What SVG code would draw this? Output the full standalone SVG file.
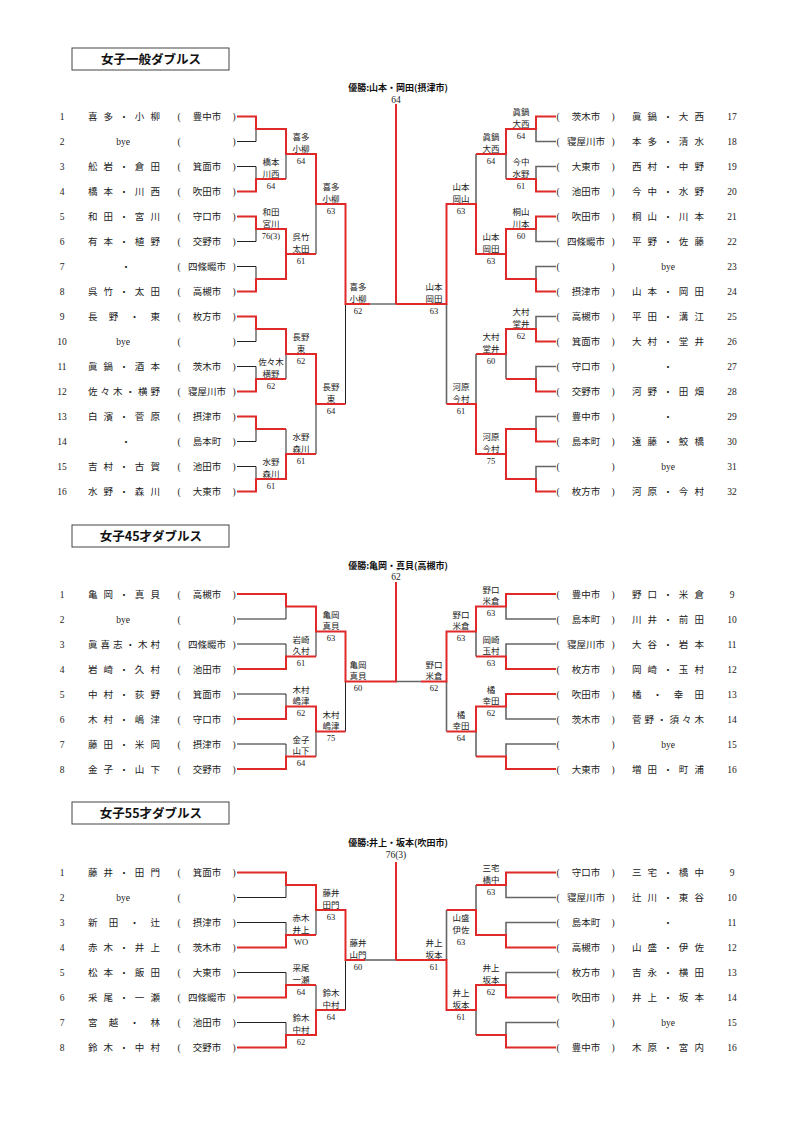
<svg xmlns="http://www.w3.org/2000/svg" width="794" height="1123" viewBox="0 0 794 1123">
<style>
text{font-family:"Liberation Serif","Noto Sans CJK JP",serif;fill:#222;font-size:9.5px}
.m{text-anchor:middle}
.l{font-size:8.5px;text-anchor:middle}
.ttl{font-family:"Noto Sans CJK JP",sans-serif;font-weight:bold;font-size:12.5px;text-anchor:middle;fill:#111}
.ch{font-family:"Noto Sans CJK JP",sans-serif;font-weight:bold;font-size:9px;text-anchor:middle;fill:#111}
.box{fill:#fff;stroke:#444;stroke-width:1}
path{fill:none}
.r{stroke:#e02a2a;stroke-width:2}
.k{stroke:#222;stroke-width:1}
.g{stroke:#666;stroke-width:1.6}
</style>
<rect width="794" height="1123" fill="#fff"/>

<!-- ===== Section 1 ===== -->
<g id="title1"><rect class="box" x="72" y="48" width="157" height="22"/><text class="ttl" x="151" y="63.5">女子一般ダブルス</text></g>
<g id="champ1"><text class="ch" x="398" y="91">優勝:山本・岡田(摂津市)</text><text class="m" x="396" y="103">64</text></g>

<g id="s1-connectors">
<path class="k" d="M237 141.5H256V129M237 166.5H256V179M237 241.5H256V229M237 266.5H256V279M237 341.5H256V329M237 366.5H256V379M237 441.5H256V429M237 466.5H256V479M286 179V154M286 379V354M286 429V454M316 254V204M316 454V404M345.5 404V304M370 304H396"/>
<path class="r" d="M237 116.5H256V129H286V154H316V204H345.5V304H370"/>
<path class="r" d="M237 191.5H256V179H286"/>
<path class="r" d="M237 216.5H256V229H286V254"/>
<path class="r" d="M237 291.5H256V279H286V254H316"/>
<path class="r" d="M237 316.5H256V329H286V354H316V404H345.5"/>
<path class="r" d="M237 391.5H256V379H286"/>
<path class="r" d="M237 416.5H256V429H286"/>
<path class="r" d="M237 491.5H256V479H286V454H316"/>
<path class="r" d="M396 304V104"/>
<path class="g" d="M556 141.5H536V129M556 166.5H536V179M556 241.5H536V229M556 266.5H536V279M556 316.5H536V329M556 366.5H536V379M556 416.5H536V429M556 466.5H536V479M506 179V154M506 379V354M476 154V204M476 354V404M446.5 304V404"/>
<path class="r" d="M556 116.5H536V129H506V154H476"/>
<path class="r" d="M556 191.5H536V179H506"/>
<path class="r" d="M556 216.5H536V229H506V254"/>
<path class="r" d="M556 291.5H536V279H506V254H476V204H446.5V304H396"/>
<path class="r" d="M556 341.5H536V329H506V354H476"/>
<path class="r" d="M556 391.5H536V379H506"/>
<path class="r" d="M556 441.5H536V429H506V454"/>
<path class="r" d="M556 491.5H536V479H506V454H476V404H446.5"/>
</g>

<g id="s1-left">
<g id="s1-e1"><text class="m" x="62" y="120">1</text><text x="88" y="120" textLength="72" lengthAdjust="spacing">喜多・小柳</text><text class="m" x="179" y="120">(</text><text class="m" x="207" y="120">豊中市</text><text class="m" x="234" y="120">)</text></g>
<g id="s1-e2"><text class="m" x="62" y="145">2</text><text class="m" x="123" y="145">bye</text><text class="m" x="179" y="145">(</text><text class="m" x="234" y="145">)</text></g>
<g id="s1-e3"><text class="m" x="62" y="170">3</text><text x="88" y="170" textLength="72" lengthAdjust="spacing">舩岩・倉田</text><text class="m" x="179" y="170">(</text><text class="m" x="207" y="170">箕面市</text><text class="m" x="234" y="170">)</text></g>
<g id="s1-e4"><text class="m" x="62" y="195">4</text><text x="88" y="195" textLength="72" lengthAdjust="spacing">橋本・川西</text><text class="m" x="179" y="195">(</text><text class="m" x="207" y="195">吹田市</text><text class="m" x="234" y="195">)</text></g>
<g id="s1-e5"><text class="m" x="62" y="220">5</text><text x="88" y="220" textLength="72" lengthAdjust="spacing">和田・宮川</text><text class="m" x="179" y="220">(</text><text class="m" x="207" y="220">守口市</text><text class="m" x="234" y="220">)</text></g>
<g id="s1-e6"><text class="m" x="62" y="245">6</text><text x="88" y="245" textLength="72" lengthAdjust="spacing">有本・植野</text><text class="m" x="179" y="245">(</text><text class="m" x="207" y="245">交野市</text><text class="m" x="234" y="245">)</text></g>
<g id="s1-e7"><text class="m" x="62" y="270">7</text><text class="m" x="126" y="270">・</text><text class="m" x="179" y="270">(</text><text class="m" x="207" y="270">四條畷市</text><text class="m" x="234" y="270">)</text></g>
<g id="s1-e8"><text class="m" x="62" y="295">8</text><text x="88" y="295" textLength="72" lengthAdjust="spacing">呉竹・太田</text><text class="m" x="179" y="295">(</text><text class="m" x="207" y="295">高槻市</text><text class="m" x="234" y="295">)</text></g>
<g id="s1-e9"><text class="m" x="62" y="320">9</text><text x="88" y="320" textLength="72" lengthAdjust="spacing">長野・東</text><text class="m" x="179" y="320">(</text><text class="m" x="207" y="320">枚方市</text><text class="m" x="234" y="320">)</text></g>
<g id="s1-e10"><text class="m" x="62" y="345">10</text><text class="m" x="123" y="345">bye</text><text class="m" x="179" y="345">(</text><text class="m" x="234" y="345">)</text></g>
<g id="s1-e11"><text class="m" x="62" y="370">11</text><text x="88" y="370" textLength="72" lengthAdjust="spacing">眞鍋・酒本</text><text class="m" x="179" y="370">(</text><text class="m" x="207" y="370">茨木市</text><text class="m" x="234" y="370">)</text></g>
<g id="s1-e12"><text class="m" x="62" y="395">12</text><text x="88" y="395" textLength="72" lengthAdjust="spacing">佐々木・横野</text><text class="m" x="179" y="395">(</text><text class="m" x="207" y="395">寝屋川市</text><text class="m" x="234" y="395">)</text></g>
<g id="s1-e13"><text class="m" x="62" y="420">13</text><text x="88" y="420" textLength="72" lengthAdjust="spacing">白濱・菅原</text><text class="m" x="179" y="420">(</text><text class="m" x="207" y="420">摂津市</text><text class="m" x="234" y="420">)</text></g>
<g id="s1-e14"><text class="m" x="62" y="445">14</text><text class="m" x="126" y="445">・</text><text class="m" x="179" y="445">(</text><text class="m" x="207" y="445">島本町</text><text class="m" x="234" y="445">)</text></g>
<g id="s1-e15"><text class="m" x="62" y="470">15</text><text x="88" y="470" textLength="72" lengthAdjust="spacing">吉村・古賀</text><text class="m" x="179" y="470">(</text><text class="m" x="207" y="470">池田市</text><text class="m" x="234" y="470">)</text></g>
<g id="s1-e16"><text class="m" x="62" y="495">16</text><text x="88" y="495" textLength="72" lengthAdjust="spacing">水野・森川</text><text class="m" x="179" y="495">(</text><text class="m" x="207" y="495">大東市</text><text class="m" x="234" y="495">)</text></g>
</g>

<g id="s1-right">
<g id="s1-e17"><text class="m" x="558" y="120">(</text><text class="m" x="586" y="120">茨木市</text><text class="m" x="613" y="120">)</text><text x="632" y="120" textLength="72" lengthAdjust="spacing">眞鍋・大西</text><text class="m" x="732" y="120">17</text></g>
<g id="s1-e18"><text class="m" x="558" y="145">(</text><text class="m" x="586" y="145">寝屋川市</text><text class="m" x="613" y="145">)</text><text x="632" y="145" textLength="72" lengthAdjust="spacing">本多・清水</text><text class="m" x="732" y="145">18</text></g>
<g id="s1-e19"><text class="m" x="558" y="170">(</text><text class="m" x="586" y="170">大東市</text><text class="m" x="613" y="170">)</text><text x="632" y="170" textLength="72" lengthAdjust="spacing">西村・中野</text><text class="m" x="732" y="170">19</text></g>
<g id="s1-e20"><text class="m" x="558" y="195">(</text><text class="m" x="586" y="195">池田市</text><text class="m" x="613" y="195">)</text><text x="632" y="195" textLength="72" lengthAdjust="spacing">今中・水野</text><text class="m" x="732" y="195">20</text></g>
<g id="s1-e21"><text class="m" x="558" y="220">(</text><text class="m" x="586" y="220">吹田市</text><text class="m" x="613" y="220">)</text><text x="632" y="220" textLength="72" lengthAdjust="spacing">桐山・川本</text><text class="m" x="732" y="220">21</text></g>
<g id="s1-e22"><text class="m" x="558" y="245">(</text><text class="m" x="586" y="245">四條畷市</text><text class="m" x="613" y="245">)</text><text x="632" y="245" textLength="72" lengthAdjust="spacing">平野・佐藤</text><text class="m" x="732" y="245">22</text></g>
<g id="s1-e23"><text class="m" x="558" y="270">(</text><text class="m" x="613" y="270">)</text><text class="m" x="668" y="270">bye</text><text class="m" x="732" y="270">23</text></g>
<g id="s1-e24"><text class="m" x="558" y="295">(</text><text class="m" x="586" y="295">摂津市</text><text class="m" x="613" y="295">)</text><text x="632" y="295" textLength="72" lengthAdjust="spacing">山本・岡田</text><text class="m" x="732" y="295">24</text></g>
<g id="s1-e25"><text class="m" x="558" y="320">(</text><text class="m" x="586" y="320">高槻市</text><text class="m" x="613" y="320">)</text><text x="632" y="320" textLength="72" lengthAdjust="spacing">平田・溝江</text><text class="m" x="732" y="320">25</text></g>
<g id="s1-e26"><text class="m" x="558" y="345">(</text><text class="m" x="586" y="345">箕面市</text><text class="m" x="613" y="345">)</text><text x="632" y="345" textLength="72" lengthAdjust="spacing">大村・堂井</text><text class="m" x="732" y="345">26</text></g>
<g id="s1-e27"><text class="m" x="558" y="370">(</text><text class="m" x="586" y="370">守口市</text><text class="m" x="613" y="370">)</text><text class="m" x="668" y="370">・</text><text class="m" x="732" y="370">27</text></g>
<g id="s1-e28"><text class="m" x="558" y="395">(</text><text class="m" x="586" y="395">交野市</text><text class="m" x="613" y="395">)</text><text x="632" y="395" textLength="72" lengthAdjust="spacing">河野・田畑</text><text class="m" x="732" y="395">28</text></g>
<g id="s1-e29"><text class="m" x="558" y="420">(</text><text class="m" x="586" y="420">豊中市</text><text class="m" x="613" y="420">)</text><text class="m" x="668" y="420">・</text><text class="m" x="732" y="420">29</text></g>
<g id="s1-e30"><text class="m" x="558" y="445">(</text><text class="m" x="586" y="445">島本町</text><text class="m" x="613" y="445">)</text><text x="632" y="445" textLength="72" lengthAdjust="spacing">遠藤・鮫橋</text><text class="m" x="732" y="445">30</text></g>
<g id="s1-e31"><text class="m" x="558" y="470">(</text><text class="m" x="613" y="470">)</text><text class="m" x="668" y="470">bye</text><text class="m" x="732" y="470">31</text></g>
<g id="s1-e32"><text class="m" x="558" y="495">(</text><text class="m" x="586" y="495">枚方市</text><text class="m" x="613" y="495">)</text><text x="632" y="495" textLength="72" lengthAdjust="spacing">河原・今村</text><text class="m" x="732" y="495">32</text></g>
</g>

<g id="s1-results">
<g id="s1-m1"><text class="l" x="271" y="165">橋本</text><text class="l" x="271" y="176.5">川西</text><text class="l" x="271" y="188.5">64</text></g>
<g id="s1-m2"><text class="l" x="271" y="215">和田</text><text class="l" x="271" y="226.5">宮川</text><text class="l" x="271" y="238.5">76(3)</text></g>
<g id="s1-m3"><text class="l" x="271" y="365">佐々木</text><text class="l" x="271" y="376.5">横野</text><text class="l" x="271" y="388.5">62</text></g>
<g id="s1-m4"><text class="l" x="271" y="465">水野</text><text class="l" x="271" y="476.5">森川</text><text class="l" x="271" y="488.5">61</text></g>
<g id="s1-m5"><text class="l" x="301" y="140">喜多</text><text class="l" x="301" y="151.5">小柳</text><text class="l" x="301" y="163.5">64</text></g>
<g id="s1-m6"><text class="l" x="301" y="240">呉竹</text><text class="l" x="301" y="251.5">太田</text><text class="l" x="301" y="263.5">61</text></g>
<g id="s1-m7"><text class="l" x="301" y="340">長野</text><text class="l" x="301" y="351.5">東</text><text class="l" x="301" y="363.5">62</text></g>
<g id="s1-m8"><text class="l" x="301" y="440">水野</text><text class="l" x="301" y="451.5">森川</text><text class="l" x="301" y="463.5">61</text></g>
<g id="s1-m9"><text class="l" x="331" y="190">喜多</text><text class="l" x="331" y="201.5">小柳</text><text class="l" x="331" y="213.5">63</text></g>
<g id="s1-m10"><text class="l" x="331" y="390">長野</text><text class="l" x="331" y="401.5">東</text><text class="l" x="331" y="413.5">64</text></g>
<g id="s1-m11"><text class="l" x="358" y="290">喜多</text><text class="l" x="358" y="301.5">小柳</text><text class="l" x="358" y="313.5">62</text></g>
<g id="s1-m12"><text class="l" x="521" y="115">眞鍋</text><text class="l" x="521" y="126.5">大西</text><text class="l" x="521" y="138.5">64</text></g>
<g id="s1-m13"><text class="l" x="521" y="165">今中</text><text class="l" x="521" y="176.5">水野</text><text class="l" x="521" y="188.5">61</text></g>
<g id="s1-m14"><text class="l" x="521" y="215">桐山</text><text class="l" x="521" y="226.5">川本</text><text class="l" x="521" y="238.5">60</text></g>
<g id="s1-m15"><text class="l" x="521" y="315">大村</text><text class="l" x="521" y="326.5">堂井</text><text class="l" x="521" y="338.5">62</text></g>
<g id="s1-m16"><text class="l" x="491" y="140">眞鍋</text><text class="l" x="491" y="151.5">大西</text><text class="l" x="491" y="163.5">64</text></g>
<g id="s1-m17"><text class="l" x="491" y="240">山本</text><text class="l" x="491" y="251.5">岡田</text><text class="l" x="491" y="263.5">63</text></g>
<g id="s1-m18"><text class="l" x="491" y="340">大村</text><text class="l" x="491" y="351.5">堂井</text><text class="l" x="491" y="363.5">60</text></g>
<g id="s1-m19"><text class="l" x="491" y="440">河原</text><text class="l" x="491" y="451.5">今村</text><text class="l" x="491" y="463.5">75</text></g>
<g id="s1-m20"><text class="l" x="461" y="190">山本</text><text class="l" x="461" y="201.5">岡山</text><text class="l" x="461" y="213.5">63</text></g>
<g id="s1-m21"><text class="l" x="461" y="390">河原</text><text class="l" x="461" y="401.5">今村</text><text class="l" x="461" y="413.5">61</text></g>
<g id="s1-m22"><text class="l" x="434" y="290">山本</text><text class="l" x="434" y="301.5">岡田</text><text class="l" x="434" y="313.5">63</text></g>
</g>

<!-- ===== Section 2 ===== -->
<g id="title2"><rect class="box" x="72" y="525" width="157" height="22"/><text class="ttl" x="151" y="540.5">女子45才ダブルス</text></g>
<g id="champ2"><text class="ch" x="398" y="568.5">優勝:亀岡・真貝(高槻市)</text><text class="m" x="396" y="580">62</text></g>

<g id="s2-connectors">
<path class="k" d="M237 619H286V606.5M237 644H286V656.5M237 694H286V706.5M237 744H286V756.5M316 631.5V656.5M316 731.5V756.5M345.5 681.5V731.5"/>
<path class="r" d="M237 594H286V606.5H316V631.5H345.5V681.5H396V582"/>
<path class="r" d="M237 669H286V656.5H316"/>
<path class="r" d="M237 719H286V706.5H316V731.5H345.5"/>
<path class="r" d="M237 769H286V756.5H316"/>
<path class="g" d="M556 619H506V606.5M556 644H506V656.5M556 719H506V706.5M556 744H506V756.5M476 631.5V656.5M476 731.5V756.5M446.5 681.5V731.5M421 681.5H396"/>
<path class="r" d="M556 594H506V606.5H476V631.5H446.5V681.5H421"/>
<path class="r" d="M556 669H506V656.5H476"/>
<path class="r" d="M556 694H506V706.5H476V731.5H446.5"/>
<path class="r" d="M556 769H506V756.5H476"/>
</g>

<g id="s2-left">
<g id="s2-e1"><text class="m" x="62" y="597.5">1</text><text x="88" y="597.5" textLength="72" lengthAdjust="spacing">亀岡・真貝</text><text class="m" x="179" y="597.5">(</text><text class="m" x="207" y="597.5">高槻市</text><text class="m" x="234" y="597.5">)</text></g>
<g id="s2-e2"><text class="m" x="62" y="622.5">2</text><text class="m" x="123" y="622.5">bye</text><text class="m" x="179" y="622.5">(</text><text class="m" x="234" y="622.5">)</text></g>
<g id="s2-e3"><text class="m" x="62" y="647.5">3</text><text x="88" y="647.5" textLength="72" lengthAdjust="spacing">眞喜志・木村</text><text class="m" x="179" y="647.5">(</text><text class="m" x="207" y="647.5">四條畷市</text><text class="m" x="234" y="647.5">)</text></g>
<g id="s2-e4"><text class="m" x="62" y="672.5">4</text><text x="88" y="672.5" textLength="72" lengthAdjust="spacing">岩崎・久村</text><text class="m" x="179" y="672.5">(</text><text class="m" x="207" y="672.5">池田市</text><text class="m" x="234" y="672.5">)</text></g>
<g id="s2-e5"><text class="m" x="62" y="697.5">5</text><text x="88" y="697.5" textLength="72" lengthAdjust="spacing">中村・荻野</text><text class="m" x="179" y="697.5">(</text><text class="m" x="207" y="697.5">箕面市</text><text class="m" x="234" y="697.5">)</text></g>
<g id="s2-e6"><text class="m" x="62" y="722.5">6</text><text x="88" y="722.5" textLength="72" lengthAdjust="spacing">木村・嶋津</text><text class="m" x="179" y="722.5">(</text><text class="m" x="207" y="722.5">守口市</text><text class="m" x="234" y="722.5">)</text></g>
<g id="s2-e7"><text class="m" x="62" y="747.5">7</text><text x="88" y="747.5" textLength="72" lengthAdjust="spacing">藤田・米岡</text><text class="m" x="179" y="747.5">(</text><text class="m" x="207" y="747.5">摂津市</text><text class="m" x="234" y="747.5">)</text></g>
<g id="s2-e8"><text class="m" x="62" y="772.5">8</text><text x="88" y="772.5" textLength="72" lengthAdjust="spacing">金子・山下</text><text class="m" x="179" y="772.5">(</text><text class="m" x="207" y="772.5">交野市</text><text class="m" x="234" y="772.5">)</text></g>
</g>

<g id="s2-right">
<g id="s2-e9"><text class="m" x="558" y="597.5">(</text><text class="m" x="586" y="597.5">豊中市</text><text class="m" x="613" y="597.5">)</text><text x="632" y="597.5" textLength="72" lengthAdjust="spacing">野口・米倉</text><text class="m" x="732" y="597.5">9</text></g>
<g id="s2-e10"><text class="m" x="558" y="622.5">(</text><text class="m" x="586" y="622.5">島本町</text><text class="m" x="613" y="622.5">)</text><text x="632" y="622.5" textLength="72" lengthAdjust="spacing">川井・前田</text><text class="m" x="732" y="622.5">10</text></g>
<g id="s2-e11"><text class="m" x="558" y="647.5">(</text><text class="m" x="586" y="647.5">寝屋川市</text><text class="m" x="613" y="647.5">)</text><text x="632" y="647.5" textLength="72" lengthAdjust="spacing">大谷・岩本</text><text class="m" x="732" y="647.5">11</text></g>
<g id="s2-e12"><text class="m" x="558" y="672.5">(</text><text class="m" x="586" y="672.5">枚方市</text><text class="m" x="613" y="672.5">)</text><text x="632" y="672.5" textLength="72" lengthAdjust="spacing">岡崎・玉村</text><text class="m" x="732" y="672.5">12</text></g>
<g id="s2-e13"><text class="m" x="558" y="697.5">(</text><text class="m" x="586" y="697.5">吹田市</text><text class="m" x="613" y="697.5">)</text><text x="632" y="697.5" textLength="72" lengthAdjust="spacing">橘・幸田</text><text class="m" x="732" y="697.5">13</text></g>
<g id="s2-e14"><text class="m" x="558" y="722.5">(</text><text class="m" x="586" y="722.5">茨木市</text><text class="m" x="613" y="722.5">)</text><text x="632" y="722.5" textLength="72" lengthAdjust="spacing">菅野・須々木</text><text class="m" x="732" y="722.5">14</text></g>
<g id="s2-e15"><text class="m" x="558" y="747.5">(</text><text class="m" x="613" y="747.5">)</text><text class="m" x="668" y="747.5">bye</text><text class="m" x="732" y="747.5">15</text></g>
<g id="s2-e16"><text class="m" x="558" y="772.5">(</text><text class="m" x="586" y="772.5">大東市</text><text class="m" x="613" y="772.5">)</text><text x="632" y="772.5" textLength="72" lengthAdjust="spacing">増田・町浦</text><text class="m" x="732" y="772.5">16</text></g>
</g>

<g id="s2-results">
<g id="s2-m1"><text class="l" x="301" y="642.5">岩崎</text><text class="l" x="301" y="654">久村</text><text class="l" x="301" y="666">61</text></g>
<g id="s2-m2"><text class="l" x="301" y="692.5">木村</text><text class="l" x="301" y="704">嶋津</text><text class="l" x="301" y="716">62</text></g>
<g id="s2-m3"><text class="l" x="301" y="742.5">金子</text><text class="l" x="301" y="754">山下</text><text class="l" x="301" y="766">64</text></g>
<g id="s2-m4"><text class="l" x="331" y="617.5">亀岡</text><text class="l" x="331" y="629">真貝</text><text class="l" x="331" y="641">63</text></g>
<g id="s2-m5"><text class="l" x="331" y="717.5">木村</text><text class="l" x="331" y="729">嶋津</text><text class="l" x="331" y="741">75</text></g>
<g id="s2-m6"><text class="l" x="358" y="667.5">亀岡</text><text class="l" x="358" y="679">真貝</text><text class="l" x="358" y="691">60</text></g>
<g id="s2-m7"><text class="l" x="491" y="592.5">野口</text><text class="l" x="491" y="604">米倉</text><text class="l" x="491" y="616">63</text></g>
<g id="s2-m8"><text class="l" x="491" y="642.5">岡崎</text><text class="l" x="491" y="654">玉村</text><text class="l" x="491" y="666">63</text></g>
<g id="s2-m9"><text class="l" x="491" y="692.5">橘</text><text class="l" x="491" y="704">幸田</text><text class="l" x="491" y="716">62</text></g>
<g id="s2-m10"><text class="l" x="461" y="617.5">野口</text><text class="l" x="461" y="629">米倉</text><text class="l" x="461" y="641">63</text></g>
<g id="s2-m11"><text class="l" x="461" y="717.5">橘</text><text class="l" x="461" y="729">幸田</text><text class="l" x="461" y="741">64</text></g>
<g id="s2-m12"><text class="l" x="434" y="667.5">野口</text><text class="l" x="434" y="679">米倉</text><text class="l" x="434" y="691">62</text></g>
</g>

<!-- ===== Section 3 ===== -->
<g id="title3"><rect class="box" x="72" y="802" width="157" height="22"/><text class="ttl" x="151" y="817.5">女子55才ダブルス</text></g>
<g id="champ3"><text class="ch" x="398" y="846">優勝:井上・坂本(吹田市)</text><text class="m" x="396" y="858">76(3)</text></g>

<g id="s3-connectors">
<path class="k" d="M237 897.5H286V885M237 922.5H286V935M237 972.5H286V985M237 1022.5H286V1035M316 910V935M316 985V1010M345.5 960V1010"/>
<path class="g" d="M365 960H396"/>
<path class="r" d="M237 872.5H286V885H316V910H345.5V960H365"/>
<path class="r" d="M237 947.5H286V935H316"/>
<path class="r" d="M237 997.5H286V985H316"/>
<path class="r" d="M237 1047.5H286V1035H316V1010H345.5"/>
<path class="r" d="M396 960V862"/>
<path class="g" d="M556 897.5H506V885M556 922.5H506V935M556 972.5H506V985M556 1022.5H506V1035M476 885V910M476 1010V1035M446.5 910V960"/>
<path class="r" d="M556 872.5H506V885H476"/>
<path class="r" d="M556 947.5H506V935H476V910H446.5"/>
<path class="r" d="M556 997.5H506V985H476V1010H446.5V960H396"/>
<path class="r" d="M556 1047.5H506V1035H476"/>
</g>

<g id="s3-left">
<g id="s3-e1"><text class="m" x="62" y="876">1</text><text x="88" y="876" textLength="72" lengthAdjust="spacing">藤井・田門</text><text class="m" x="179" y="876">(</text><text class="m" x="207" y="876">箕面市</text><text class="m" x="234" y="876">)</text></g>
<g id="s3-e2"><text class="m" x="62" y="901">2</text><text class="m" x="123" y="901">bye</text><text class="m" x="179" y="901">(</text><text class="m" x="234" y="901">)</text></g>
<g id="s3-e3"><text class="m" x="62" y="926">3</text><text x="88" y="926" textLength="72" lengthAdjust="spacing">新田・辻</text><text class="m" x="179" y="926">(</text><text class="m" x="207" y="926">摂津市</text><text class="m" x="234" y="926">)</text></g>
<g id="s3-e4"><text class="m" x="62" y="951">4</text><text x="88" y="951" textLength="72" lengthAdjust="spacing">赤木・井上</text><text class="m" x="179" y="951">(</text><text class="m" x="207" y="951">茨木市</text><text class="m" x="234" y="951">)</text></g>
<g id="s3-e5"><text class="m" x="62" y="976">5</text><text x="88" y="976" textLength="72" lengthAdjust="spacing">松本・飯田</text><text class="m" x="179" y="976">(</text><text class="m" x="207" y="976">大東市</text><text class="m" x="234" y="976">)</text></g>
<g id="s3-e6"><text class="m" x="62" y="1001">6</text><text x="88" y="1001" textLength="72" lengthAdjust="spacing">采尾・一瀬</text><text class="m" x="179" y="1001">(</text><text class="m" x="207" y="1001">四條畷市</text><text class="m" x="234" y="1001">)</text></g>
<g id="s3-e7"><text class="m" x="62" y="1026">7</text><text x="88" y="1026" textLength="72" lengthAdjust="spacing">宮越・林</text><text class="m" x="179" y="1026">(</text><text class="m" x="207" y="1026">池田市</text><text class="m" x="234" y="1026">)</text></g>
<g id="s3-e8"><text class="m" x="62" y="1051">8</text><text x="88" y="1051" textLength="72" lengthAdjust="spacing">鈴木・中村</text><text class="m" x="179" y="1051">(</text><text class="m" x="207" y="1051">交野市</text><text class="m" x="234" y="1051">)</text></g>
</g>

<g id="s3-right">
<g id="s3-e9"><text class="m" x="558" y="876">(</text><text class="m" x="586" y="876">守口市</text><text class="m" x="613" y="876">)</text><text x="632" y="876" textLength="72" lengthAdjust="spacing">三宅・橋中</text><text class="m" x="732" y="876">9</text></g>
<g id="s3-e10"><text class="m" x="558" y="901">(</text><text class="m" x="586" y="901">寝屋川市</text><text class="m" x="613" y="901">)</text><text x="632" y="901" textLength="72" lengthAdjust="spacing">辻川・東谷</text><text class="m" x="732" y="901">10</text></g>
<g id="s3-e11"><text class="m" x="558" y="926">(</text><text class="m" x="586" y="926">島本町</text><text class="m" x="613" y="926">)</text><text class="m" x="668" y="926">・</text><text class="m" x="732" y="926">11</text></g>
<g id="s3-e12"><text class="m" x="558" y="951">(</text><text class="m" x="586" y="951">高槻市</text><text class="m" x="613" y="951">)</text><text x="632" y="951" textLength="72" lengthAdjust="spacing">山盛・伊佐</text><text class="m" x="732" y="951">12</text></g>
<g id="s3-e13"><text class="m" x="558" y="976">(</text><text class="m" x="586" y="976">枚方市</text><text class="m" x="613" y="976">)</text><text x="632" y="976" textLength="72" lengthAdjust="spacing">吉永・横田</text><text class="m" x="732" y="976">13</text></g>
<g id="s3-e14"><text class="m" x="558" y="1001">(</text><text class="m" x="586" y="1001">吹田市</text><text class="m" x="613" y="1001">)</text><text x="632" y="1001" textLength="72" lengthAdjust="spacing">井上・坂本</text><text class="m" x="732" y="1001">14</text></g>
<g id="s3-e15"><text class="m" x="558" y="1026">(</text><text class="m" x="613" y="1026">)</text><text class="m" x="668" y="1026">bye</text><text class="m" x="732" y="1026">15</text></g>
<g id="s3-e16"><text class="m" x="558" y="1051">(</text><text class="m" x="586" y="1051">豊中市</text><text class="m" x="613" y="1051">)</text><text x="632" y="1051" textLength="72" lengthAdjust="spacing">木原・宮内</text><text class="m" x="732" y="1051">16</text></g>
</g>

<g id="s3-results">
<g id="s3-m1"><text class="l" x="301" y="921">赤木</text><text class="l" x="301" y="932.5">井上</text><text class="l" x="301" y="944.5">WO</text></g>
<g id="s3-m2"><text class="l" x="301" y="971">采尾</text><text class="l" x="301" y="982.5">一瀬</text><text class="l" x="301" y="994.5">64</text></g>
<g id="s3-m3"><text class="l" x="301" y="1021">鈴木</text><text class="l" x="301" y="1032.5">中村</text><text class="l" x="301" y="1044.5">62</text></g>
<g id="s3-m4"><text class="l" x="331" y="896">藤井</text><text class="l" x="331" y="907.5">田門</text><text class="l" x="331" y="919.5">63</text></g>
<g id="s3-m5"><text class="l" x="331" y="996">鈴木</text><text class="l" x="331" y="1007.5">中村</text><text class="l" x="331" y="1019.5">64</text></g>
<g id="s3-m6"><text class="l" x="358" y="946">藤井</text><text class="l" x="358" y="957.5">山門</text><text class="l" x="358" y="969.5">60</text></g>
<g id="s3-m7"><text class="l" x="491" y="871">三宅</text><text class="l" x="491" y="882.5">橋中</text><text class="l" x="491" y="894.5">63</text></g>
<g id="s3-m8"><text class="l" x="491" y="971">井上</text><text class="l" x="491" y="982.5">坂本</text><text class="l" x="491" y="994.5">62</text></g>
<g id="s3-m9"><text class="l" x="461" y="921">山盛</text><text class="l" x="461" y="932.5">伊佐</text><text class="l" x="461" y="944.5">63</text></g>
<g id="s3-m10"><text class="l" x="461" y="996">井上</text><text class="l" x="461" y="1007.5">坂本</text><text class="l" x="461" y="1019.5">61</text></g>
<g id="s3-m11"><text class="l" x="434" y="946">井上</text><text class="l" x="434" y="957.5">坂本</text><text class="l" x="434" y="969.5">61</text></g>
</g>
</svg>
